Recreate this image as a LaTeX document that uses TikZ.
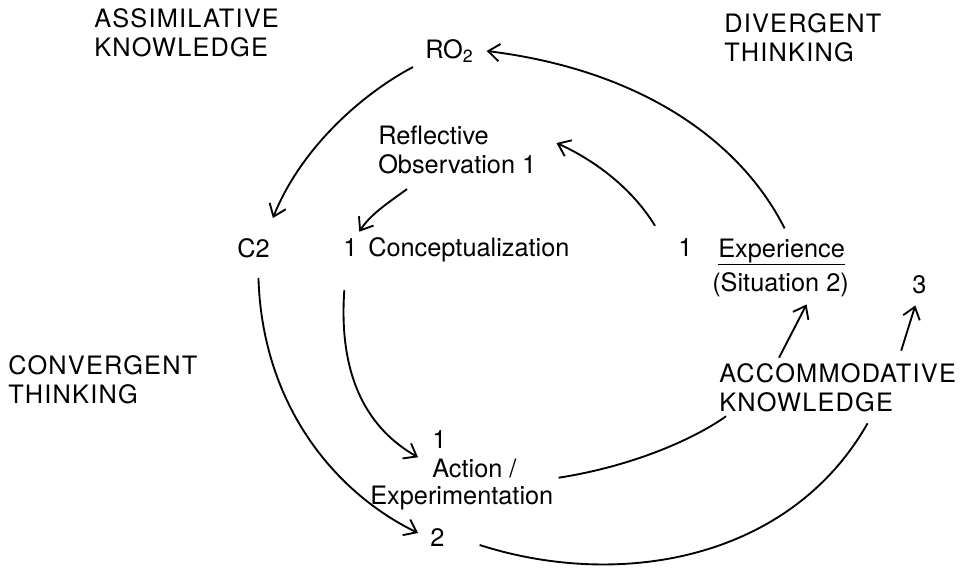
\documentclass[tikz,border=0pt]{standalone}
\usepackage{fontspec}
\setmainfont{TeX Gyre Heros}
\newfontfamily\spacedcaps[LetterSpace=4.8]{TeX Gyre Heros}
\usetikzlibrary{arrows.meta}
\begin{document}
\begin{tikzpicture}[x=0.75pt,y=0.75pt,yscale=-1,xscale=1,
  lbl/.style={inner sep=0.75pt,font=\fontsize{19}{21.5}\selectfont,align=left},
  caps/.style={lbl,font=\spacedcaps\fontsize{19}{21.5}\selectfont},
  arc/.style={line width=1.4pt},
  arr/.style={arc,-{Straight Barb[length=8.5pt,width=13pt,line width=1.4pt]}}]
\useasboundingbox (0,0) rectangle (970,573);
% labels
\draw (93,33) node [caps,anchor=west] (assim) {ASSIMILATIVE\\KNOWLEDGE};
\draw (723,38) node [caps,anchor=west] (diverg) {DIVERGENT\\THINKING};
\draw (7,380) node [caps,anchor=west] (conv) {CONVERGENT\\THINKING};
\draw (718,388) node [caps,anchor=west] (accom) {ACCOMMODATIVE\\KNOWLEDGE};
\draw (424,51) node [lbl,anchor=west] (ro2) {RO\textsubscript{2}};
\draw (377,150) node [lbl,anchor=west] (refl) {Reflective\\Observation 1};
\draw (236,248) node [lbl,anchor=west] (c2) {C2};
\draw (342,248) node [lbl,anchor=west] (c1) {1};
\draw (367,250) node [lbl,anchor=west] (conc) {Conceptualization};
\draw (677,248) node [lbl,anchor=west] (e1) {1};
\draw (717,252) node [lbl,anchor=west] (exp) {\underline{Experience}};
\draw (711,285) node [lbl,anchor=west] (sit) {(Situation 2)};
\draw (911,285) node [lbl,anchor=west] (three) {3};
\draw (431,440) node [lbl,anchor=west] (a1) {1};
\draw (431,469) node [lbl,anchor=west] (act) {Action /};
\draw (369,498) node [lbl,anchor=west] (expm) {Experimentation};
\draw (429,538) node [lbl,anchor=west] (two) {2};
% outer cycle
\draw [arr] ([shift={(3,-9)}]exp.north) .. controls (740,140) and (640,70) .. ([shift={(12,0)}]ro2.east);
\draw [arr] ([shift={(-11,3)}]ro2.south west) .. controls (360,95) and (300,150) .. ([shift={(2,-19)}]c2.north east);
\draw [arr] ([shift={(5,19)}]c2.south) .. controls (262,400) and (330,490) .. ([shift={(-11,-5)}]two.west);
\draw [arc] ([shift={(34,7)}]two.east) .. controls (620,590) and (790,560) .. ([shift={(30,10)}]accom.south);
% inner cycle
\draw [arr] ([shift={(-22,-12)}]e1.north west) .. controls (630,185) and (590,158) .. ([shift={(19,-7)}]refl.east);
\draw [arr] ([shift={(30,14)}]refl.south west) .. controls (385,205) and (370,215) .. ([shift={(9,-6)}]c1.north);
\draw [arr] ([shift={(-6,32)}]c1.south) .. controls (338,380) and (370,430) .. ([shift={(-13,7)}]a1.south west);
\draw [arc] ([shift={(4,-7)}]expm.north east) .. controls (640,465) and (700,435) .. ([shift={(8,3)}]accom.south west);
% back to experience
\draw [arr] ([shift={(61,-5)}]accom.north west) -- ([shift={(26,6)}]sit.south);
\draw [arr] ([shift={(-56,-12)}]accom.north east) -- ([shift={(-4,10)}]three.south);
\end{tikzpicture}
\end{document}
